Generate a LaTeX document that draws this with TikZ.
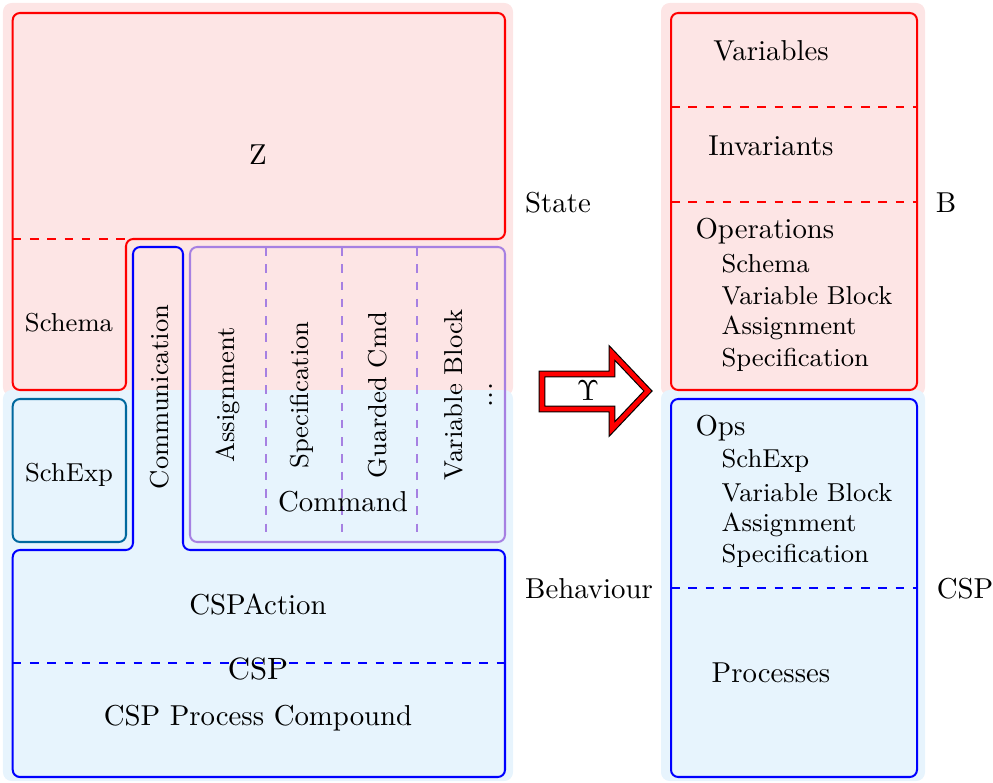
\documentclass[tikz,border=0pt]{standalone}
\usepackage{amsmath}
\definecolor{bgred}{RGB}{253,229,229}
\definecolor{bgblue}{RGB}{231,244,253}
\definecolor{schteal}{RGB}{0,104,158}
\definecolor{cmdpurple}{RGB}{166,128,226}
\begin{document}
\begin{tikzpicture}[x=0.3472pt,y=-0.3472pt,
  bgbox/.style={rounded corners=3pt},
  outline/.style={line width=0.7pt,rounded corners=2.5pt},
  sep/.style={line width=0.7pt,dashed},
  lbl/.style={inner sep=0pt},
  rlbl/.style={inner sep=0pt,rotate=90,font=\small},
  item/.style={inner sep=0pt,anchor=west}]
\useasboundingbox (0,0) rectangle (993,783);

% backgrounds: state (pink) over behaviour (blue)
\fill[bgred,bgbox] (3,3) rectangle (513,396);
\fill[bgblue,bgbox] (3,390) rectangle (513,781);
\fill[bgred,bgbox] (661,3) rectangle (925,396);
\fill[bgblue,bgbox] (661,390) rectangle (925,781);

% Z block with the Schema part
\draw[red,outline] (12.7,300) -- (12.7,13) -- (505,13) -- (505,239) -- (126,239)
  -- (126,390) -- (12.7,390) -- cycle;
\draw[red,sep] (12.7,239) -- (126,239);

% CSP block with the Communication tab
\draw[blue,outline] (158,247) -- (183,247) -- (183,550) -- (505,550) -- (505,777)
  -- (12.7,777) -- (12.7,550) -- (133,550) -- (133,247) -- cycle;
\draw[blue,sep] (12.7,663) -- (505,663);

% SchExp box
\draw[schteal,outline] (12.7,399) rectangle (126,542);

% Command box and its columns
\draw[cmdpurple,outline] (190,247) rectangle (505,542);
\foreach \cx in {266,342,417}
  \draw[cmdpurple,sep] (\cx,247) -- (\cx,542);

% left labels
\node[lbl] (z) at (258,155) {Z};
\node[lbl,font=\small] (schema) at (69,323) {Schema};
\node[lbl,font=\small] (schexp) at (69,475) {SchExp};
\node[rlbl] (comm) at (160,397) {Communication};
\node[rlbl] (assign) at (228,395) {Assignment};
\node[rlbl] (spec) at (302,395) {Specification};
\node[rlbl] (guard) at (378,395) {Guarded Cmd};
\node[rlbl] (varblk) at (454,395) {Variable Block};
\node[inner sep=0pt,rotate=90] (more) at (491,395) {...};
\node[lbl] (command) at (343,502) {Command};
\node[lbl] (cspaction) at (258,605) {CSPAction};
\node[lbl,font=\fontsize{10.7pt}{13pt}\selectfont] (csp) at (258,669) {CSP};
\node[lbl] (cspproc) at (258,718) {CSP Process Compound};

% side labels
\node[lbl] (state) at (558,203) {State};
\node[lbl] (behav) at (589,589) {Behaviour};
\node[lbl] (blang) at (946,203) {B};
\node[lbl] (csplang) at (965,589) {CSP};

% translation arrow
\draw[draw=black,line width=0.4pt,double=red,double distance=1.6pt,fill=white]
  (542,374) -- (612,374) -- (612,353) -- (648,391) -- (612,429) -- (612,409)
  -- (542,409) -- cycle;
\node[lbl] (ups) at (588,391) {$\Upsilon$};

% B machine
\draw[red,outline] (671,13) rectangle (917,390);
\draw[red,sep] (671,107) -- (917,107);
\draw[red,sep] (671,202) -- (917,202);
\node[lbl] (vars) at (771,51) {Variables};
\node[lbl] (invs) at (771,146) {Invariants};
\node[item] (ops) at (695,231) {Operations};
\node[item,font=\small] (bschema) at (721,264) {Schema};
\node[item,font=\small] (bvarblk) at (721,296) {Variable Block};
\node[item,font=\small] (bassign) at (721,328) {Assignment};
\node[item,font=\small] (bspec) at (721,360) {Specification};

% CSP part
\draw[blue,outline] (671,399) rectangle (917,777);
\draw[blue,sep] (671,588) -- (917,588);
\node[item] (cops) at (695,428) {Ops};
\node[item,font=\small] (cschexp) at (721,461) {SchExp};
\node[item,font=\small] (cvarblk) at (721,493) {Variable Block};
\node[item,font=\small] (cassign) at (721,525) {Assignment};
\node[item,font=\small] (cspec) at (721,556) {Specification};
\node[lbl] (procs) at (771,673) {Processes};
\end{tikzpicture}
\end{document}
